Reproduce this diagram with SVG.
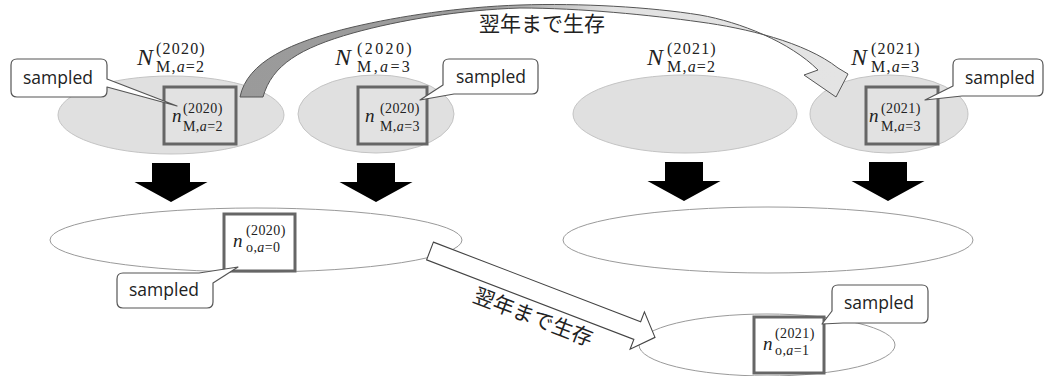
<svg xmlns="http://www.w3.org/2000/svg" width="1046" height="376" viewBox="0 0 1046 376">
  <style>
    .pop { fill: #e0e0e0; stroke: #c4c4c4; stroke-width: 1; }
    .popw { fill: #ffffff; stroke: #9a9a9a; stroke-width: 1; }
    .samp { fill: #e2e2e2; stroke: #666666; stroke-width: 3; }
    .sampw { fill: #ffffff; stroke: #666666; stroke-width: 3; }
    .call { fill: #ffffff; stroke: #555555; stroke-width: 1.2; stroke-linejoin: round; }
    .ctext { font-family: "Open Sans", "Liberation Sans", sans-serif; font-size: 17.5px; fill: #222; text-anchor: middle; }
    .math { font-family: "Liberation Serif", "DejaVu Serif", serif; fill: #222; }
    .big { font-size: 24px; font-style: italic; }
    .scr { font-size: 16px; font-style: normal; letter-spacing: 1.2px; }
    .wide { letter-spacing: 2.4px; }
    .small { font-size: 19px; font-style: italic; }
    .sscr { font-size: 14px; font-style: normal; letter-spacing: 0.4px; }
    .it { font-style: italic; }
    .jp { font-family: "Noto Sans CJK JP", "Noto Sans", sans-serif; font-size: 21px; fill: #222; }
    .down { fill: #000000; }
  </style>
  <defs>
    <linearGradient id="bandFill" gradientUnits="userSpaceOnUse" x1="240" y1="0" x2="840" y2="0">
      <stop offset="0" stop-color="#9a9a9a"/>
      <stop offset="0.42" stop-color="#9e9e9e"/>
      <stop offset="0.62" stop-color="#e2e2e2"/>
      <stop offset="1" stop-color="#e4e4e4"/>
    </linearGradient>
    <path id="dn" d="M-19,0 H19 V19 H36.5 L0,39 L-36.5,19 H-19 Z"/>
  </defs>

  <!-- 2020 adult population, age 2 -->
  <g id="pop2020a2">
    <ellipse class="pop" cx="171" cy="115" rx="113" ry="39"/>
    <text class="math"><tspan class="big" x="137" y="65">N</tspan><tspan class="scr" x="156" y="54">(2020)</tspan><tspan class="scr" x="156" y="72">M,<tspan class="it">a</tspan>=2</tspan></text>
  </g>
  <g id="smp2020a2">
    <rect class="samp" x="164" y="87" width="72" height="57"/>
    <text class="math"><tspan class="small" x="172" y="122">n</tspan><tspan class="sscr" x="183" y="113">(2020)</tspan><tspan class="sscr" x="183" y="131">M,<tspan class="it">a</tspan>=2</tspan></text>
  </g>

  <!-- 2020 adult population, age 3 -->
  <g id="pop2020a3">
    <ellipse class="pop" cx="376" cy="114" rx="78" ry="39"/>
    <text class="math"><tspan class="big" x="335" y="65">N</tspan><tspan class="scr wide" x="357" y="54">(2020)</tspan><tspan class="scr wide" x="357" y="72">M,<tspan class="it">a</tspan>=3</tspan></text>
  </g>
  <g id="smp2020a3">
    <rect class="samp" x="358" y="87" width="69" height="57"/>
    <text class="math"><tspan class="small" x="365" y="122">n</tspan><tspan class="sscr" x="380" y="113">(2020)</tspan><tspan class="sscr" x="380" y="131">M,<tspan class="it">a</tspan>=3</tspan></text>
  </g>

  <!-- 2021 adult population, age 2 -->
  <g id="pop2021a2">
    <ellipse class="pop" cx="685" cy="114" rx="112" ry="39"/>
    <text class="math"><tspan class="big" x="647" y="65">N</tspan><tspan class="scr" x="667" y="54">(2021)</tspan><tspan class="scr" x="667" y="72">M,<tspan class="it">a</tspan>=2</tspan></text>
  </g>

  <!-- 2021 adult population, age 3 -->
  <g id="pop2021a3">
    <ellipse class="pop" cx="889" cy="114" rx="79" ry="39"/>
    <text class="math"><tspan class="big" x="851" y="65">N</tspan><tspan class="scr" x="871" y="54">(2021)</tspan><tspan class="scr" x="871" y="72">M,<tspan class="it">a</tspan>=3</tspan></text>
  </g>
  <g id="smp2021a3">
    <rect class="samp" x="866" y="87" width="72" height="57"/>
    <text class="math"><tspan class="small" x="869" y="122">n</tspan><tspan class="sscr" x="881" y="113">(2021)</tspan><tspan class="sscr" x="881" y="131">M,<tspan class="it">a</tspan>=3</tspan></text>
  </g>

  <!-- offspring pools -->
  <g id="off2020">
    <ellipse class="popw" cx="256" cy="240" rx="206" ry="32"/>
  </g>
  <g id="smpOff2020">
    <rect class="sampw" x="224" y="214" width="71" height="57"/>
    <text class="math"><tspan class="small" x="233" y="247">n</tspan><tspan class="sscr" x="246" y="235">(2020)</tspan><tspan class="sscr" x="246" y="252">o,<tspan class="it">a</tspan>=0</tspan></text>
  </g>
  <g id="off2021">
    <ellipse class="popw" cx="768" cy="240" rx="205" ry="33"/>
  </g>
  <g id="age1in2021">
    <ellipse class="popw" cx="767" cy="345" rx="128" ry="31"/>
  </g>
  <g id="smpAge1in2021">
    <rect class="sampw" x="754" y="317" width="70" height="56"/>
    <text class="math"><tspan class="small" x="763" y="350">n</tspan><tspan class="sscr" x="775" y="338">(2021)</tspan><tspan class="sscr" x="775" y="355">o,<tspan class="it">a</tspan>=1</tspan></text>
  </g>

  <!-- connectors -->
  <g id="connectors">
    <!-- reproduction arrows -->
    <use href="#dn" class="down" x="171" y="163"/>
    <use href="#dn" class="down" x="376" y="163"/>
    <use href="#dn" class="down" x="684" y="162"/>
    <use href="#dn" class="down" x="888" y="162"/>

    <!-- survival of age-2 adults into the next year -->
    <path d="M240,97 C247,62 290,42 353,27 C400,16 460,7 520,5 C580,3 650,7 700,15 C740,22 790,42 818,70 L804,75 L836,97 L848,74 L838,68 C805,42 745,28 700,22 C650,15 580,8 520,8 C460,10 400,20 353,33 C300,48 272,65 263,97 Z" fill="url(#bandFill)" stroke="#555555" stroke-width="1" stroke-linejoin="miter"/>
    <text class="jp" x="479" y="31">翌年まで生存</text>

    <!-- survival of age-0 offspring into the next year -->
    <g transform="translate(430,251) rotate(21)">
      <path d="M0,-9.5 H222 V-20 L241,0 L222,20 V9.5 H0 Z" fill="#ffffff" stroke="#444444" stroke-width="1.1" stroke-linejoin="miter"/>
      <text class="jp" x="120" y="32" text-anchor="middle">翌年まで生存</text>
    </g>
  </g>

  <!-- sample callouts -->
  <g id="call1">
    <path class="call" d="M17,59 H101 Q107,59 107,65 V79 L177,106 L107,87 V91 Q107,97 101,97 H17 Q11,97 11,91 V65 Q11,59 17,59 Z"/>
    <text class="ctext" x="58" y="84">sampled</text>
  </g>
  <g id="call2">
    <path class="call" d="M449,59 H532 Q538,59 538,65 V88 Q538,94 532,94 H454 L420,100 L443,85 V65 Q443,59 449,59 Z"/>
    <text class="ctext" x="491" y="83">sampled</text>
  </g>
  <g id="call3">
    <path class="call" d="M959,59 H1037 Q1043,59 1043,65 V90 Q1043,96 1037,96 H962 L925,100 L953,86 V65 Q953,59 959,59 Z"/>
    <text class="ctext" x="1000" y="84">sampled</text>
  </g>
  <g id="call4">
    <path class="call" d="M123,273 H199 L238,267 L213,283 V302 Q213,308 207,308 H123 Q117,308 117,302 V279 Q117,273 123,273 Z"/>
    <text class="ctext" x="164" y="296">sampled</text>
  </g>
  <g id="call5">
    <path class="call" d="M838,285 H922 Q928,285 928,291 V317 Q928,323 922,323 H843 L822,324 L832,311 V291 Q832,285 838,285 Z"/>
    <text class="ctext" x="879" y="309">sampled</text>
  </g>
</svg>
